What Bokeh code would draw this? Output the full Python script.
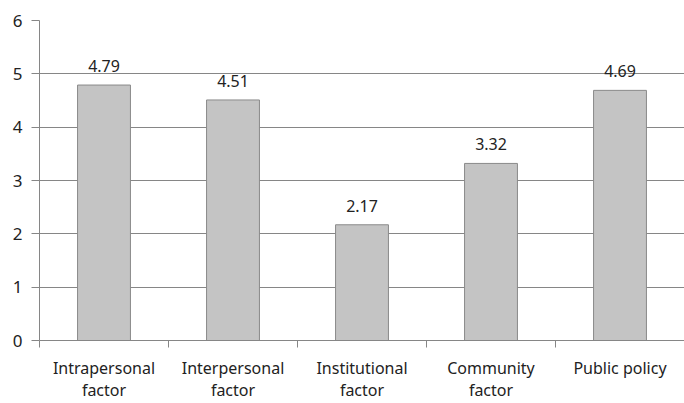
from bokeh.plotting import figure
from bokeh.models import ColumnDataSource, Range1d, FixedTicker, LabelSet
from bokeh.core.properties import value
from bokeh.embed import file_html
from bokeh.resources import INLINE

categories = ["Intrapersonal\nfactor", "Interpersonal\nfactor", "Institutional\nfactor", "Community\nfactor", "Public policy"]
values = [4.79, 4.51, 2.17, 3.32, 4.69]
value_labels = ["4.79", "4.51", "2.17", "3.32", "4.69"]
y_ticks = [0, 1, 2, 3, 4, 5, 6]

FONT = "Noto Sans"
TEXT = "#222222"
GRID = "#868686"

xs = [i + 0.5 for i in range(len(categories))]
src = ColumnDataSource(dict(x=xs, top=values, lab=value_labels))

p = figure(width=684, height=403, output_backend="svg", toolbar_location=None,
           x_range=Range1d(0, len(categories)), y_range=Range1d(0, 6),
           min_border_left=39, min_border_right=0, min_border_top=20, min_border_bottom=63)
p.outline_line_color = None
p.background_fill_color = "white"
p.border_fill_color = "white"

p.vbar(x="x", top="top", width=0.41, bottom=0, source=src,
       fill_color="#c4c4c4", line_color="#8a8a8a", line_width=1)

labels = LabelSet(x="x", y="top", text="lab", source=src, text_align="center",
                  text_baseline="bottom", y_offset=13, text_font=value(FONT),
                  text_font_size="16px", text_color=TEXT)
p.add_layout(labels)

# x axis
xa = p.xaxis[0]
xa.ticker = FixedTicker(ticks=xs, minor_ticks=list(range(len(categories) + 1)))
xa.major_label_overrides = {x: c for x, c in zip(xs, categories)}
xa.major_tick_line_color = None
xa.major_tick_out = 0
xa.major_tick_in = 0
xa.minor_tick_line_color = GRID
xa.minor_tick_out = 7
xa.minor_tick_in = 0
xa.axis_line_color = GRID
xa.major_label_text_font = FONT
xa.major_label_text_font_size = "16px"
xa.major_label_text_color = TEXT
xa.major_label_text_line_height = 1.0
xa.major_label_standoff = 9

# y axis
ya = p.yaxis[0]
ya.ticker = FixedTicker(ticks=y_ticks)
ya.axis_line_color = GRID
ya.major_tick_line_color = GRID
ya.major_tick_out = 8
ya.major_tick_in = 0
ya.minor_tick_line_color = None
ya.major_label_text_font = FONT
ya.major_label_text_font_size = "17px"
ya.major_label_text_color = TEXT
ya.major_label_standoff = 9

p.xgrid.grid_line_color = None
p.ygrid.grid_line_color = GRID
p.ygrid.ticker = FixedTicker(ticks=y_ticks)

open("out.html", "w").write(file_html(p, INLINE))
